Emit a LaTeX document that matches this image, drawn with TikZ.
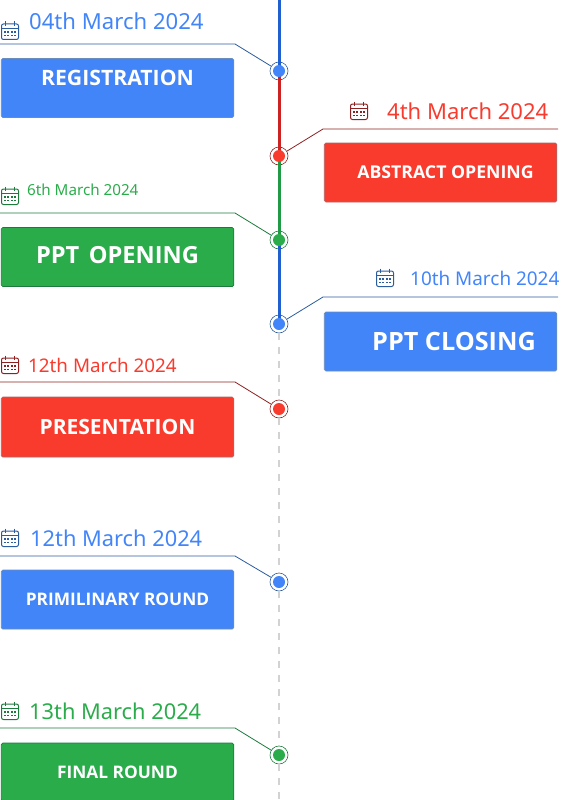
\documentclass[tikz,border=0pt]{standalone}
\usepackage{fontspec}
\setmainfont{Open Sans}
\newfontfamily\datefont{Noto Sans}
\definecolor{evBlue}{HTML}{4285F9}
\definecolor{evRed}{HTML}{F93B2E}
\definecolor{evGreen}{HTML}{2BAC4B}
\definecolor{darkBlue}{HTML}{2B5C9E}
\definecolor{darkRed}{HTML}{8F2020}
\definecolor{darkGreen}{HTML}{1B7A3C}
\definecolor{spineBlue}{HTML}{1F5FCF}
\definecolor{spineRed}{HTML}{CC2222}
\definecolor{spineGreen}{HTML}{219A45}
\begin{document}
\begin{tikzpicture}[
    x=1pt, y=-1pt,
    % shared looks
    spine_style/.style={line width=3pt},
    dash_style/.style={line width=1.4pt, gray!35, dash pattern=on 7pt off 7pt},
    lead_style/.style={line width=0.8pt},
    ring_style/.style={circle, draw, line width=0.6pt, minimum size=18pt, inner sep=0},
    box_style/.style={rounded corners=1.5pt, line width=0.7pt, text=white, inner sep=0, minimum width=232.5pt}
]
    \useasboundingbox (0,0) rectangle (560,800);

    % --- macros ---
    % name, y, border
    \newcommand{\tldot}[3]{
        \node[ring_style, draw=#3] (#1) at (279,#2) {};
    }
    % name, centre, height, fill, border, font size, text
    \newcommand{\tlbox}[7]{
        \node[box_style, fill=#4, draw=#5, minimum height=#3pt, font=\fontsize{#6}{#6}\selectfont\bfseries] (#1) at (#2) {#7};
    }
    % name, icon centre, text start, colour, icon colour, font size, text
    \newcommand{\tldate}[7]{
        \node[inner sep=0] (#1) at (#2) {};
        \begin{scope}[shift={(#1.center)}, draw=#5, line width=1pt]
            \draw[rounded corners=2pt] (-8.5,-7) rectangle (8.5,8.5);
            \draw (-8.5,-2.5) -- (8.5,-2.5);
            \foreach \px in {-4.5,4.5} {
                \draw (\px,-9.5) -- (\px,-5);
            }
            \foreach \px in {-5,-1.7,1.7,5} {
                \foreach \py in {1,4.5} {
                    \fill[#5] (\px-0.9,\py-0.8) rectangle ++(1.8,1.6);
                }
            }
        \end{scope}
        \node[anchor=west, inner sep=0, text=#4, font=\datefont\fontsize{#6}{#6}\selectfont] (#1text) at (#3) {#7};
    }

    % --- spine ---
    \coordinate (top) at (279,0);
    \coordinate (bottom) at (279,800);
    \tldot{regdot}{71}{darkBlue}
    \tldot{absdot}{156}{darkRed}
    \tldot{opendot}{240}{darkGreen}
    \tldot{closedot}{324}{darkBlue}
    \tldot{presdot}{409}{darkRed}
    \tldot{primdot}{582}{darkBlue}
    \tldot{finaldot}{755}{darkGreen}

    \draw[spine_style, spineBlue] (top) -- (regdot.center);
    \draw[spine_style, spineRed] (regdot.center) -- (absdot.center);
    \draw[spine_style, spineGreen] (absdot.center) -- (opendot.center);
    \draw[spine_style, spineBlue] (opendot.center) -- (closedot.center);
    \draw[dash_style] (closedot.south) -- (presdot.north);
    \draw[dash_style] (presdot.south) -- (primdot.north);
    \draw[dash_style] (primdot.south) -- (finaldot.north);
    \draw[dash_style] (finaldot.south) -- (bottom);

    % marks above the spine
    \foreach \mark/\col in {regdot/evBlue,absdot/evRed,opendot/evGreen,closedot/evBlue,presdot/evRed,primdot/evBlue,finaldot/evGreen} {
        \fill[\col] (\mark.center) circle (6);
    }

    % --- leaders ---
    \coordinate (regA) at (235,44);   \coordinate (regB) at (0,44);
    \coordinate (absA) at (323,129);  \coordinate (absB) at (558,129);
    \coordinate (openA) at (235,213); \coordinate (openB) at (0,213);
    \coordinate (closeA) at (323,297);\coordinate (closeB) at (558,297);
    \coordinate (presA) at (235,382); \coordinate (presB) at (0,382);
    \coordinate (primA) at (235,556); \coordinate (primB) at (0,556);
    \coordinate (finalA) at (235,728);\coordinate (finalB) at (0,728);
    \draw[lead_style, darkBlue] (regdot) -- (regA) -- (regB);
    \draw[lead_style, darkRed] (absdot) -- (absA) -- (absB);
    \draw[lead_style, darkGreen] (opendot) -- (openA) -- (openB);
    \draw[lead_style, darkBlue] (closedot) -- (closeA) -- (closeB);
    \draw[lead_style, darkRed] (presdot) -- (presA) -- (presB);
    \draw[lead_style, darkBlue] (primdot) -- (primA) -- (primB);
    \draw[lead_style, darkGreen] (finaldot) -- (finalA) -- (finalB);

    % --- boxes ---
    \tlbox{regbox}{117.5,88}{59}{evBlue}{darkBlue!70}{21.2}{\raisebox{20pt}{REGISTRATION}\hspace{3pt}}
    \tlbox{absbox}{440.5,172.5}{59}{evRed}{darkRed!70}{17.7}{\hspace{10pt}ABSTRACT OPENING}
    \tlbox{openbox}{117.5,257}{59}{evGreen}{darkGreen}{23.6}{\raisebox{4pt}{PPT\hspace{0.4em}OPENING}\hspace{7pt}}
    \tlbox{closebox}{440.5,341.5}{59}{evBlue}{darkBlue!70}{25.2}{\hspace{27pt}PPT CLOSING}
    \tlbox{presbox}{117.5,427}{60}{evRed}{darkRed!70}{21}{\raisebox{-1.5pt}{PRESENTATION}\hspace{3pt}}
    \tlbox{primbox}{117.5,599.5}{59}{evBlue}{darkBlue!70}{17.3}{\raisebox{1pt}{PRIMILINARY ROUND}\hspace{3pt}}
    \tlbox{finalbox}{117.5,772}{58}{evGreen}{darkGreen}{17.3}{\raisebox{-1pt}{FINAL ROUND}\hspace{2pt}}

    % --- dates ---
    \tldate{regdate}{10,31}{29,21}{evBlue}{darkBlue}{22.1}{04th March 2024}
    \tldate{absdate}{359,111}{387,111}{evRed}{darkRed}{22}{4th March 2024}
    \tldate{opendate}{10,196}{27,190}{evGreen}{darkGreen}{15.2}{6th March 2024}
    \tldate{closedate}{385,278}{410,278}{evBlue}{darkBlue}{18.9}{10th March 2024}
    \tldate{presdate}{10,365}{28,365}{evRed}{darkRed}{18.8}{12th March 2024}
    \tldate{primdate}{10,538}{30,538}{evBlue}{darkBlue}{21.8}{12th March 2024}
    \tldate{finaldate}{10,711}{29,711}{evGreen}{darkGreen}{21.8}{13th March 2024}

\end{tikzpicture}
\end{document}
